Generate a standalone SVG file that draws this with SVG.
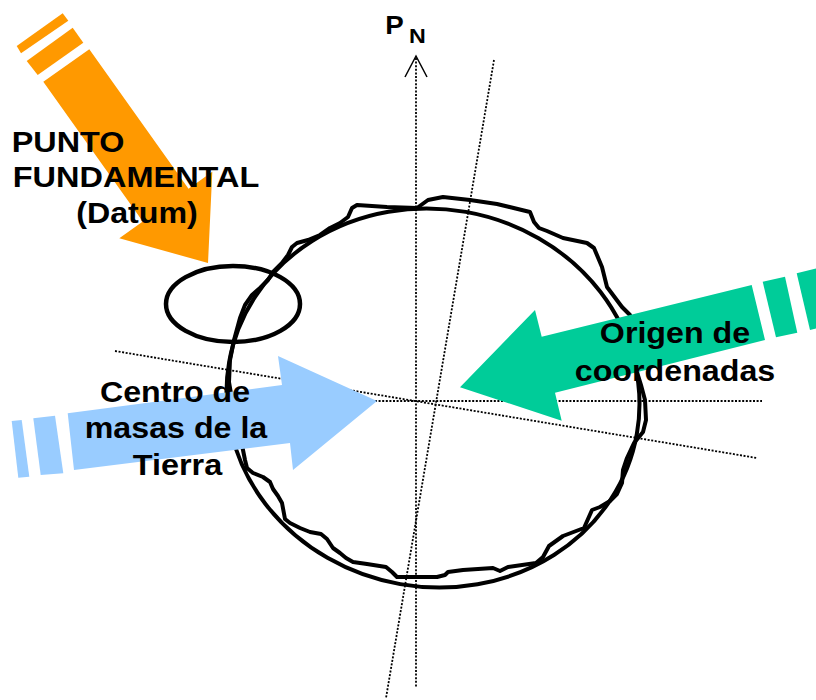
<svg xmlns="http://www.w3.org/2000/svg" width="816" height="700" viewBox="0 0 816 700">
  <style>
    .axis { stroke: #000; stroke-width: 1.8; stroke-dasharray: 2 1.6; fill: none; }
    .curve { stroke: #000; stroke-width: 4; fill: none; stroke-linejoin: round; stroke-linecap: round; }
    .lbl { font-family: "Liberation Sans", Arial, sans-serif; font-weight: bold; font-size: 29px; fill: #000; }
    .orange { fill: #FF9900; }
    .blue { fill: #99CCFF; }
    .green { fill: #00CC99; }
  </style>

  <!-- reference axes -->
  <g id="connectors">
    <line class="axis" x1="416" y1="58" x2="416" y2="688"/>
    <polyline points="405,77 416,56 427,77" fill="none" stroke="#000" stroke-width="1.5"/>
    <line class="axis" x1="494" y1="60" x2="386" y2="698"/>
    <line class="axis" x1="375" y1="401" x2="762" y2="401"/>
    <line class="axis" x1="115" y1="351" x2="757" y2="458"/>
  </g>

  <!-- reference ellipsoid -->
  <g id="ellipsoid">
    <ellipse class="curve" cx="433" cy="398" rx="207" ry="189" transform="rotate(10 433 398)"/>
  </g>

  <!-- geoid surface -->
  <g id="geoid">
    <path class="curve" d="M417,208 L428,200 L443,197 L470,200 L497,204 L530,212 L534,222 L539,228 L547,231 L563,238 L587,243 L594,248 L602,267 L607,287 L613,295 L622,307 L630,315 L634,340 L637,372 L641,385 L645,400 L646,420 L643,432 L634,443 L627,458 L623,470 L622,483 L617,494 L610,501 L600,507 L592,510 L584,528 L563,536 L549,546 L543,557 L536,563 L508,567 L500,571 L493,568 L463,570 L448,572 L445,575 L437,577 L413,577 L397,577 L392,572 L386,567 L367,564 L353,562 L346,558 L340,553 L333,548 L327,539 L321,534 L310,532 L300,528 L290,523 L285,519 L282,503 L278,496 L273,489 L270,482 L263,477 L253,473 L247,468 L245,460 L243,450 L238,430 L233,405 L229,382 L230,360 L234,340 L240,318 L245,305 L252,295 L260,288 L268,280 L273,272 L282,263 L288,255 L292,247 L297,243 L308,240 L320,235 L330,228 L340,223 L348,217 L352,208 L357,205 L387,207 Z"/>
  </g>

  <!-- datum region -->
  <g id="datum-ring">
    <ellipse cx="233" cy="304" rx="67" ry="38" fill="none" stroke="#000" stroke-width="4.5"/>
  </g>

  <!-- PN label -->
  <g id="pole">
    <text class="lbl" x="385.3" y="33.5" font-size="25" textLength="18.5" lengthAdjust="spacingAndGlyphs" style="font-size:25px">P</text>
    <text class="lbl" x="409" y="42.7" textLength="16.8" lengthAdjust="spacingAndGlyphs" style="font-size:21px">N</text>
  </g>

  <!-- Punto fundamental -->
  <g id="punto-fundamental">
    <polygon class="orange" points="16.7,46 62.7,13.3 68.3,20.7 21,53.3"/>
    <polygon class="orange" points="26.7,61 72.7,27.7 83.3,42.7 37.7,75"/>
    <polygon class="orange" points="43.3,81.7 89.3,49.3 188.5,188.7 212.3,171.7 208,263 119.3,238.3 142.8,221.5"/>
    <text class="lbl" x="11.7" y="152" textLength="112.7" lengthAdjust="spacingAndGlyphs">PUNTO</text>
    <text class="lbl" x="12.7" y="187" textLength="246.7" lengthAdjust="spacingAndGlyphs">FUNDAMENTAL</text>
    <text class="lbl" x="76.2" y="222.5" textLength="121.6" lengthAdjust="spacingAndGlyphs">(Datum)</text>
  </g>

  <!-- Centro de masas -->
  <g id="centro-masas">
    <polygon class="blue" points="11.7,421 21.7,420 29.3,476.7 18.3,477.7"/>
    <polygon class="blue" points="33.3,418.3 55,415.7 63.3,473.3 40.7,475"/>
    <polygon class="blue" points="67.7,413.3 282,385 278,356 377,401 293,470 290,443 74,470"/>
    <text class="lbl" x="175" y="402" text-anchor="middle" textLength="150.2" lengthAdjust="spacingAndGlyphs">Centro de</text>
    <text class="lbl" x="176" y="438.3" text-anchor="middle" textLength="182.5" lengthAdjust="spacingAndGlyphs">masas de la</text>
    <text class="lbl" x="177.5" y="475" text-anchor="middle" textLength="89.5" lengthAdjust="spacingAndGlyphs">Tierra</text>
  </g>

  <!-- Origen de coordenadas -->
  <g id="origen-coordenadas">
    <polygon class="green" points="796.7,273.3 830,265 843,322 810,330"/>
    <polygon class="green" points="762.7,281.7 785,276.7 797.3,332.7 776,337.3"/>
    <polygon class="green" points="751.7,285 765,340 555,392.7 561.7,420.7 460,387.3 535,310 541.7,336.7"/>
    <text class="lbl" x="675" y="342.7" text-anchor="middle" textLength="150.3" lengthAdjust="spacingAndGlyphs">Origen de</text>
    <text class="lbl" x="675" y="380.7" text-anchor="middle" textLength="200.4" lengthAdjust="spacingAndGlyphs">coordenadas</text>
  </g>
</svg>
